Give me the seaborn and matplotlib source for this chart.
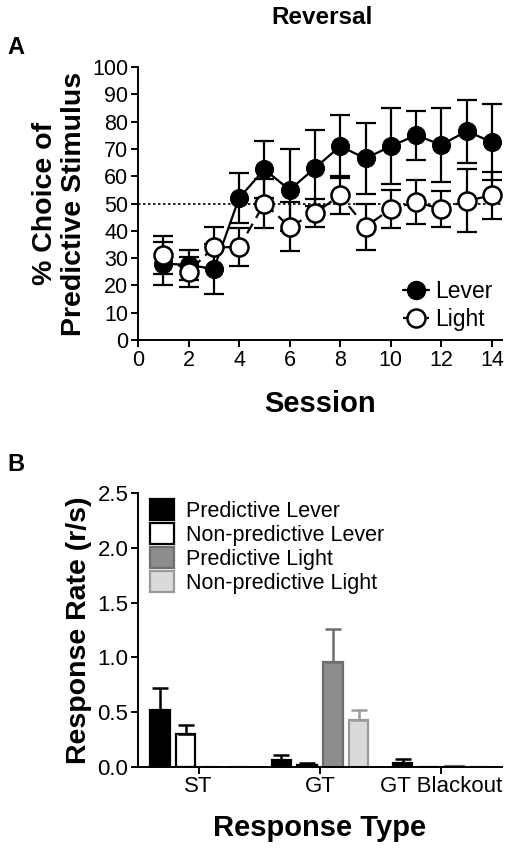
import matplotlib
matplotlib.use("Agg")
import matplotlib.pyplot as plt
from matplotlib.lines import Line2D
import seaborn as sns
import pandas as pd

# Panel A: reversal sessions
sessions = list(range(1, 15))
lever_mean = [28, 27.5, 26, 52, 62.5, 55, 63, 71, 66.5, 71, 75, 71.5, 76.5, 72.5]
lever_sem = [8, 5.5, 9, 9, 10.5, 15, 14, 11.5, 13, 14, 9, 13.5, 11.5, 14]
light_mean = [31, 25, 34, 34, 50, 41.5, 46.5, 53, 41.5, 48, 50.5, 48, 51, 53]
light_sem = [7, 5.5, 7.5, 7, 9, 9, 5, 7, 8.5, 7, 8, 6.5, 11.5, 8.5]

# Panel B: response rates
resp_types = ["ST", "GT", "GT Blackout"]
stim_names = ["Predictive Lever", "Non-predictive Lever", "Predictive Light", "Non-predictive Light"]
pred_lever = [0.52, 0.06, 0.037]
nonpred_lever = [0.30, 0.02, 0.0]
pred_light = [0.0, 0.96, 0.003]
nonpred_light = [0.0, 0.43, 0.0]
pred_lever_err = [0.20, 0.045, 0.033]
nonpred_lever_err = [0.08, 0.01, 0.0]
pred_light_err = [0.0, 0.30, 0.0]
nonpred_light_err = [0.0, 0.085, 0.0]

sns.set_theme(style="ticks")
plt.rcParams["font.family"] = ["Liberation Sans", "DejaVu Sans"]
plt.rcParams["text.color"] = "black"
plt.rcParams["axes.labelcolor"] = "black"
plt.rcParams["axes.edgecolor"] = "black"
plt.rcParams["axes.linewidth"] = 1.4
plt.rcParams["xtick.major.width"] = 1.4
plt.rcParams["ytick.major.width"] = 1.4
plt.rcParams["xtick.major.size"] = 5
plt.rcParams["ytick.major.size"] = 5
plt.rcParams["xtick.color"] = "black"
plt.rcParams["ytick.color"] = "black"

fig = plt.figure(figsize=(5.12, 8.56), dpi=100)
axA = fig.add_axes([0.2695, 0.6028, 0.711, 0.3189])
axB = fig.add_axes([0.2695, 0.1043, 0.711, 0.3197])

# ---- Panel A ----
dfA = pd.DataFrame({"Session": sessions * 2,
                    "Choice": lever_mean + light_mean,
                    "Stim": ["Lever"] * 14 + ["Light"] * 14})
axA.axhline(50, color="black", linestyle=(0, (1.5, 1.5)), linewidth=1.2, zorder=1)
axA.errorbar(sessions, lever_mean, yerr=lever_sem, fmt="none", ecolor="black",
             elinewidth=1.6, capsize=7.5, capthick=1.6, zorder=2)
axA.errorbar(sessions, light_mean, yerr=light_sem, fmt="none", ecolor="black",
             elinewidth=1.6, capsize=7.5, capthick=1.6, zorder=2)
sns.lineplot(data=dfA[dfA.Stim == "Lever"], x="Session", y="Choice", ax=axA,
             color="black", linewidth=1.6, marker="o", markersize=13,
             markerfacecolor="black", markeredgecolor="black", zorder=3)
sns.lineplot(data=dfA[dfA.Stim == "Light"], x="Session", y="Choice", ax=axA,
             color="black", linewidth=1.6, linestyle=(0, (5, 3)), marker="o",
             markersize=13, markerfacecolor="white", markeredgecolor="black",
             markeredgewidth=1.8, zorder=4)
axA.set_xlim(0, 14.4)
axA.set_ylim(0, 100)
axA.set_xticks(range(0, 15, 2))
axA.set_yticks(range(0, 101, 10))
axA.tick_params(labelsize=15.5, pad=2)
axA.set_xlabel("Session", fontsize=21, fontweight="bold", labelpad=14)
axA.set_ylabel("% Choice of\nPredictive Stimulus", fontsize=20.5, fontweight="bold",
               labelpad=4, linespacing=1.12)
sns.despine(ax=axA)
handles = [Line2D([], [], color="black", marker="o", markersize=13, linewidth=1.6,
                  markerfacecolor="black"),
           Line2D([], [], color="black", marker="o", markersize=13, linewidth=1.6,
                  linestyle="--", markerfacecolor="white", markeredgewidth=1.8)]
axA.legend(handles, ["Lever", "Light"], loc="lower right", frameon=False,
           fontsize=16.5, handlelength=1.1, handletextpad=0.3, labelspacing=0.2,
           borderaxespad=0.0)
fig.text(0.629, 0.979, "Reversal", ha="center", va="center", fontsize=17.5,
         fontweight="bold")
fig.text(0.032, 0.944, "A", ha="center", va="center", fontsize=17, fontweight="bold")

# ---- Panel B ----
rates = [pred_lever, nonpred_lever, pred_light, nonpred_light]
errs = [pred_lever_err, nonpred_lever_err, pred_light_err, nonpred_light_err]
rows = []
for name, vals in zip(stim_names, rates):
    for t, v in zip(resp_types, vals):
        rows.append({"Type": t, "Rate": v, "Stim": name})
dfB = pd.DataFrame(rows)
fills = ["black", "white", "#8c8c8c", "#dadada"]
edges = ["black", "black", "#6e6e6e", "#9a9a9a"]
sns.barplot(data=dfB, x="Type", y="Rate", hue="Stim", hue_order=stim_names,
            palette=fills, width=0.85, gap=0.25, ax=axB, saturation=1)
for cont, ec, err in zip(axB.containers, edges, errs):
    xs, hs = [], []
    for bar in cont:
        bar.set_edgecolor(ec)
        bar.set_linewidth(1.6)
        xs.append(bar.get_x() + bar.get_width() / 2)
        hs.append(bar.get_height())
    axB.errorbar(xs, hs, yerr=[[0] * len(err), err], fmt="none", ecolor=ec,
                 elinewidth=1.8, capsize=6, capthick=1.8, zorder=1)
axB.set_xlim(-0.5, 2.5)
axB.set_ylim(0, 2.5)
axB.set_yticks([0, 0.5, 1.0, 1.5, 2.0, 2.5])
axB.set_yticklabels(["0.0", "0.5", "1.0", "1.5", "2.0", "2.5"])
axB.tick_params(labelsize=16, pad=2)
axB.set_xlabel("Response Type", fontsize=21, fontweight="bold", labelpad=12)
axB.set_ylabel("Response Rate (r/s)", fontsize=20.5, fontweight="bold", labelpad=4)
sns.despine(ax=axB)
leg = axB.legend(loc="upper left", bbox_to_anchor=(-0.02, 1.05), frameon=False,
                 fontsize=15.5, handlelength=1.1, handleheight=1.15,
                 handletextpad=0.55, labelspacing=0.05)
for h, ec in zip(leg.legend_handles, edges):
    h.set_edgecolor(ec)
    h.set_linewidth(1.6)
fig.text(0.032, 0.457, "B", ha="center", va="center", fontsize=17, fontweight="bold")

fig.savefig("out.png", dpi=100)
